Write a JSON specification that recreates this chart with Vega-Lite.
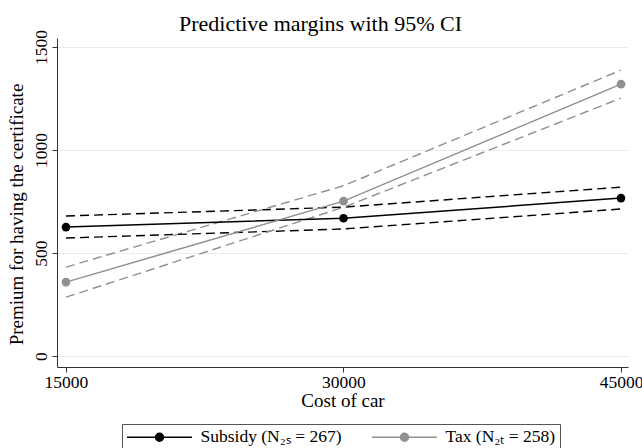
{
  "$schema": "https://vega.github.io/schema/vega-lite/v6.json",
  "autosize": {"type": "none"},
  "width": 571,
  "height": 329,
  "padding": {"left": 57, "top": 38, "right": 14, "bottom": 81},
  "background": "white",
  "title": {
    "text": "Predictive margins with 95% CI",
    "font": "Liberation Serif",
    "fontSize": 22,
    "fontWeight": "normal",
    "color": "#000000",
    "anchor": "middle",
    "dx": -22,
    "dy": 14,
    "offset": 8
  },
  "data": {
    "values": [
      {"cost": 15000, "group": "Subsidy (N₂ₛ = 267)", "margin": 626, "lo": 573, "hi": 680},
      {"cost": 30000, "group": "Subsidy (N₂ₛ = 267)", "margin": 669, "lo": 617, "hi": 723},
      {"cost": 45000, "group": "Subsidy (N₂ₛ = 267)", "margin": 767, "lo": 714, "hi": 820},
      {"cost": 15000, "group": "Tax (N₂ₜ = 258)", "margin": 359, "lo": 286, "hi": 432},
      {"cost": 30000, "group": "Tax (N₂ₜ = 258)", "margin": 752, "lo": 722, "hi": 827},
      {"cost": 45000, "group": "Tax (N₂ₜ = 258)", "margin": 1320, "lo": 1252, "hi": 1388}
    ]
  },
  "encoding": {
    "x": {
      "field": "cost",
      "type": "quantitative",
      "scale": {"domain": [14514, 45378], "nice": false, "zero": false},
      "axis": {
        "title": "Cost of car",
        "values": [15000, 30000, 45000],
        "format": "d",
        "grid": false,
        "tickSize": 5,
        "labelPadding": 1,
        "titlePadding": 1,
        "labelFlush": false
      }
    },
    "color": {
      "field": "group",
      "type": "nominal",
      "scale": {"domain": ["Subsidy (N₂ₛ = 267)", "Tax (N₂ₜ = 258)"], "range": ["#000000", "#909090"]},
      "legend": {
        "title": null,
        "orient": "none",
        "legendX": 65,
        "legendY": 386,
        "direction": "horizontal",
        "strokeColor": "#555555",
        "padding": 4,
        "symbolType": "M-4.0625,0L4.0625,0M-0.5,0A0.5,0.5,0,1,1,0.5,0A0.5,0.5,0,1,1,-0.5,0Z",
        "symbolSize": 256,
        "symbolOffset": 24.5,
        "symbolStrokeWidth": 1.5,
        "labelFont": "Liberation Serif",
        "labelFontSize": 17.5,
        "labelColor": "#000000",
        "labelOffset": 32,
        "columnPadding": 27,
        "encode": {
          "symbols": {
            "update": {
              "fill": {"scale": "color", "field": "value"},
              "stroke": {"scale": "color", "field": "value"},
              "fillOpacity": {"value": 1},
              "strokeWidth": {"value": 1.5}
            }
          }
        }
      }
    }
  },
  "layer": [
    {
      "mark": {"type": "line", "strokeDash": [9, 5], "strokeWidth": 1.4},
      "encoding": {
        "y": {
          "field": "hi",
          "type": "quantitative",
          "scale": {"domain": [-53, 1544], "nice": false, "zero": false},
          "axis": {
            "title": "Premium for having the certificate",
            "values": [0, 500, 1000, 1500],
            "format": "d",
            "grid": true,
            "gridColor": "#e4eef0",
            "gridWidth": 1,
            "labelAngle": 270,
            "tickSize": 5,
            "labelPadding": 2,
            "titlePadding": 6,
            "titleY": 176
          }
        }
      }
    },
    {
      "mark": {"type": "line", "strokeDash": [9, 5], "strokeWidth": 1.4},
      "encoding": {"y": {"field": "lo", "type": "quantitative"}}
    },
    {
      "mark": {"type": "line", "strokeWidth": 1.5},
      "encoding": {"y": {"field": "margin", "type": "quantitative"}}
    },
    {
      "mark": {"type": "point", "filled": true, "size": 75, "opacity": 1},
      "encoding": {"y": {"field": "margin", "type": "quantitative"}}
    }
  ],
  "config": {
    "view": {"stroke": null},
    "font": "Liberation Serif",
    "axis": {
      "labelFont": "Liberation Serif",
      "titleFont": "Liberation Serif",
      "labelFontSize": 17.5,
      "titleFontSize": 19,
      "titleFontWeight": "normal",
      "labelColor": "#000000",
      "titleColor": "#000000",
      "domainColor": "#333333",
      "tickColor": "#333333"
    }
  }
}
